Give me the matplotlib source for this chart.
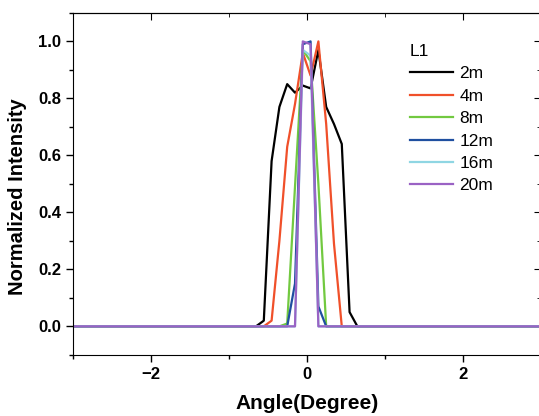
import matplotlib
matplotlib.use("Agg")
import matplotlib.pyplot as plt
from matplotlib.ticker import MultipleLocator, FormatStrFormatter

plt.rcParams["font.family"] = ["Liberation Sans", "DejaVu Sans"]

# shared angle grid (degrees); far ends just carry the flat baseline
angle = [-3.0, -0.65, -0.55, -0.45, -0.35, -0.25, -0.15, -0.05,
         0.05, 0.15, 0.25, 0.35, 0.45, 0.55, 0.65, 3.0]

i_2m = [0, 0, 0.02, 0.58, 0.77, 0.85, 0.82, 0.845, 0.835, 0.97, 0.77, 0.71, 0.64, 0.05, 0, 0]
i_4m = [0, 0, 0, 0.02, 0.30, 0.63, 0.78, 0.96, 0.88, 1.0, 0.71, 0.29, 0, 0, 0, 0]
i_8m = [0, 0, 0, 0, 0, 0.01, 0.49, 0.97, 0.93, 0.50, 0, 0, 0, 0, 0, 0]
i_12m = [0, 0, 0, 0, 0, 0, 0.15, 0.99, 1.0, 0.07, 0, 0, 0, 0, 0, 0]
i_16m = [0, 0, 0, 0, 0, 0, 0, 0.97, 0.95, 0, 0, 0, 0, 0, 0, 0]
i_20m = [0, 0, 0, 0, 0, 0, 0, 1.0, 0.99, 0, 0, 0, 0, 0, 0, 0]

labels = ["2m", "4m", "8m", "12m", "16m", "20m"]
colors = ["#000000", "#f0502a", "#72c940", "#1f4fa0", "#8fd6e3", "#9a62c4"]
series = [i_2m, i_4m, i_8m, i_12m, i_16m, i_20m]

fig = plt.figure(figsize=(5.39, 4.16), dpi=100)
ax = fig.add_axes([0.135, 0.147, 0.868, 0.822])

for y, lab, c in zip(series, labels, colors):
    ax.plot(angle, y, color=c, lw=1.6, label=lab)

ax.set_xlim(-3, 3)
ax.set_ylim(-0.1, 1.1)
ax.xaxis.set_major_locator(MultipleLocator(2))
ax.xaxis.set_minor_locator(MultipleLocator(1))
ax.yaxis.set_major_locator(MultipleLocator(0.2))
ax.yaxis.set_minor_locator(MultipleLocator(0.1))

# Origin-style: outward ticks on bottom/left, inward mirror ticks on top/right
ax.tick_params(which="both", direction="out", top=False, right=False)
ax.tick_params(which="major", length=5, width=1)
ax.tick_params(which="minor", length=3, width=1)
ax.tick_params(labelsize=12)
ax2 = ax.secondary_xaxis("top")
ax2.xaxis.set_major_locator(MultipleLocator(2))
ax2.xaxis.set_minor_locator(MultipleLocator(1))
ax2.tick_params(which="both", direction="in", labeltop=False)
ax2.tick_params(which="major", length=5)
ax2.tick_params(which="minor", length=3)
ax3 = ax.secondary_yaxis("right")
ax3.yaxis.set_major_locator(MultipleLocator(0.2))
ax3.yaxis.set_minor_locator(MultipleLocator(0.1))
ax3.tick_params(which="both", direction="in", labelright=False)
ax3.tick_params(which="major", length=5)
ax3.tick_params(which="minor", length=3)

ax.yaxis.set_major_formatter(FormatStrFormatter("%.1f"))
for lbl in ax.get_xticklabels() + ax.get_yticklabels():
    lbl.set_fontweight("bold")

ax.set_xlabel("Angle(Degree)", fontsize=15, fontweight="bold", labelpad=9)
ax.set_ylabel("Normalized Intensity", fontsize=14.5, fontweight="bold")
ax.yaxis.set_label_coords(-0.097, 0.462)

leg = ax.legend(title="L1", loc="upper left", bbox_to_anchor=(0.698, 0.94),
                frameon=False, fontsize=12.5, title_fontsize=12.5,
                handlelength=2.5, labelspacing=0.42, handletextpad=0.35,
                borderaxespad=0.2)
leg._legend_box.align = "left"

fig.savefig("out.png", dpi=100)
